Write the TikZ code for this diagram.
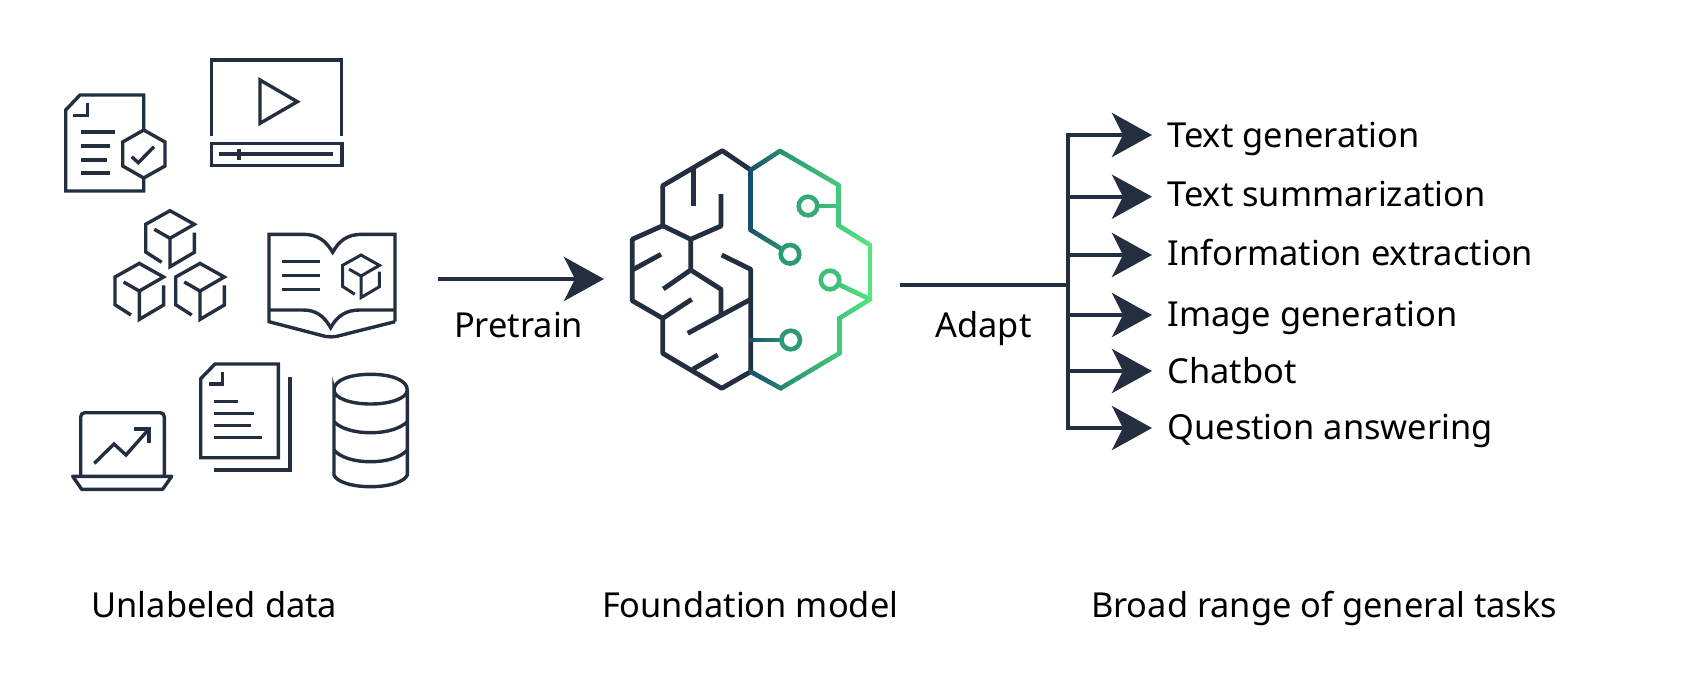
\documentclass[tikz,border=0pt]{standalone}
\usepackage{fontspec}
\setmainfont{Noto Sans}
\usetikzlibrary{arrows.meta,calc}
\definecolor{ink}{HTML}{232F3E}
\definecolor{gA}{HTML}{17506E}
\definecolor{gB}{HTML}{2C9A74}
\definecolor{gC}{HTML}{55E681}
\tikzset{
 ico/.style={draw=ink,line width=3.4pt,line join=miter,line cap=butt},
 brain/.style={draw=ink,line width=4.8pt,line cap=butt,line join=round},
 flow/.style={draw=ink,line width=4.4pt},
 tiplarge/.style={-{Stealth[length=40pt,width=44pt,inset=11pt]}},
 lab/.style={anchor=base west,text=black,font=\fontsize{34.4}{40}\selectfont,inner sep=0pt,outer sep=0pt},
}
% gradient stroke: colour follows x
\newcommand{\gcol}[1]{%
 \pgfmathsetmacro{\gt}{max(0,min(1,(#1-751)/120))}%
 \pgfmathsetmacro{\ga}{min(100,100*\gt/0.33)}%
 \pgfmathsetmacro{\gb}{max(0,100*(\gt-0.33)/0.67)}%
 \ifdim\gt pt<0.33pt\colorlet{gnow}{gB!\ga!gA}\else\colorlet{gnow}{gC!\gb!gB}\fi}
\newcommand{\gseg}[4]{%
 \foreach \i in {1,...,10}{%
  \pgfmathsetmacro{\xa}{#1+(#3-#1)*(\i-1)/10}\pgfmathsetmacro{\ya}{#2+(#4-#2)*(\i-1)/10}%
  \pgfmathsetmacro{\xb}{#1+(#3-#1)*\i/10}\pgfmathsetmacro{\yb}{#2+(#4-#2)*\i/10}%
  \pgfmathsetmacro{\xm}{(\xa+\xb)/2}\gcol{\xm}%
  \draw[draw=gnow,line width=4.6pt,line cap=round] (\xa,\ya)--(\xb,\yb);}}
\newcommand{\cube}[4]{% cx cy scale width
 \begin{scope}[shift={(#1,#2)},scale=#3]
 \draw[ico,line width=#4] (-8.3,24)--(-24.3,13.7)--(-24.3,-14)--(0,-27.6)--(24.3,-14)--(0,0)--(-15.7,-9);
 \draw[ico,line width=#4] (0,0)--(0,28.4)--(24.3,14)--(24.3,-5.6);
 \end{scope}}
\begin{document}
\begin{tikzpicture}[x=1pt,y=-1pt]
\useasboundingbox[fill=white] (0,0) rectangle (1708,672);
% --- document with hexagon
\draw[ico] (143.7,130)--(143.7,95)--(80,95)--(65.7,110)--(65.7,191)--(143.7,191)--(143.7,178);
\draw[ico] (73.3,115.7)--(87.5,115.7)--(87.5,102.7);
\draw[ico] (81,132)--(115,132) (81,146)--(110,146) (81,160)--(107,160) (81,173)--(110,173);
\draw[ico] (143.7,130)--(165,142)--(165,166)--(143.7,178)--(122.7,166)--(122.7,142)--cycle;
\draw[ico] (131.7,156.7)--(138.3,162.7)--(154,146.7);
% --- video
\draw[ico] (211.5,135.7)--(211.5,60)--(341.7,60)--(341.7,135.7);
\draw[ico] (211.7,143.3) rectangle (342,165.7);
\draw[ico] (219.3,154)--(333.3,154);
\draw[ico] (239,149)--(239,159.5);
\draw[ico] (260,80)--(297.3,101.7)--(260,123.3)--cycle;
% --- cubes
\cube{170}{238.3}{1}{3.4pt}
\cube{139.3}{291}{1}{3.4pt}
\cube{200}{291}{1}{3.4pt}
% --- book
\draw[ico] (269,310)--(269,234.3)--(303,234.3) .. controls (318,234.3) and (326,241) .. (332.7,252.3) .. controls (339,241) and (347,234.3) .. (362,234.3)--(395,234.3)--(395,321.7);
\draw[ico] (269,310)--(303,310) .. controls (316,310) and (324,316) .. (330.7,327.7) .. controls (337,316) and (346,310) .. (360,310)--(395,310);
\draw[ico] (269,310)--(269,321.7)--(320,335) .. controls (327,337.5) and (335,337.5) .. (342,335)--(395,321.7);
\draw[ico] (282.3,261.7)--(320,261.7) (282.3,275.7)--(320,275.7) (282.3,289.3)--(320,289.3);
\cube{361}{276}{0.76}{3pt}
% --- laptop
\draw[ico,rounded corners=4pt] (80.7,476.3)--(80.7,412.7)--(164.3,412.7)--(164.3,476.3);
\draw[ico,line join=round] (72.7,476.3)--(171.7,476.3)--(162.7,489.3)--(81.7,489.3)--cycle;
\draw[ico] (94.3,463.3)--(114,444)--(126,455)--(149,429);
\draw[ico] (134,429)--(149,429)--(149,443.3);
% --- paper stack
\draw[ico] (215,364)--(278.3,364)--(278.3,457.7)--(200.7,457.7)--(200.7,378.7)--cycle;
\draw[ico] (209,384)--(222.3,384)--(222.3,371.7);
\draw[ico] (214.3,401.7)--(237.7,401.7) (214.3,413.3)--(254.3,413.3) (214.3,425.3)--(250.7,425.3) (214.3,437.3)--(262,437.3);
\draw[ico] (214,470)--(290,470)--(290,376.7);
% --- database
\draw[ico] (334,390) .. controls (334,380) and (350,374.3) .. (370.7,374.3) .. controls (391,374.3) and (407.3,380) .. (407.3,390) .. controls (407.3,398) and (391,404) .. (370.7,404) .. controls (350,404) and (334,398) .. (334,390) -- (334,475) .. controls (336,481) and (350,486.7) .. (370.7,486.7) .. controls (391,486.7) and (405,481) .. (407.3,475) -- (407.3,390);
\draw[ico] (334,421.7) .. controls (340,428) and (353,432.7) .. (370.7,432.7) .. controls (388,432.7) and (401,428) .. (407.3,421.7);
\draw[ico] (334,450) .. controls (340,457) and (353,461.7) .. (370.7,461.7) .. controls (388,461.7) and (401,457) .. (407.3,450);
% --- brain, dark half
\draw[brain] (750.7,170)--(722.3,150.7)--(662.7,185.7)--(662.7,225.7)--(690.7,239.3)--(721,226)--(721,194);
\draw[brain] (693.3,169)--(693.3,206);
\draw[brain] (662.7,225.7)--(632.3,239.3)--(632.3,300.7)--(662.7,318.3)--(662.7,353.3)--(721.7,388.3)--(750.7,371.7);
\draw[brain] (632.3,270)--(661,254.3);
\draw[brain] (662.7,318.3)--(691.7,299.3);
\draw[brain] (692.7,369.3)--(717.7,355);
\draw[brain] (690.7,239.3)--(690.7,270)--(721,289.3)--(721,315);
\draw[brain] (690.7,270)--(663.3,289);
\draw[brain] (687.7,333.3)--(750.7,299.3);
\draw[brain] (721.7,255)--(750.7,269.3)--(750.7,371.7);
% --- brain, gradient half
\gseg{750.7}{170}{750.7}{230}
\gseg{750.7}{230}{780}{248}
\gseg{750.7}{170}{780}{151}
\gseg{780}{151}{838.5}{185}
\gseg{838.5}{185}{838.5}{225.5}
\gseg{838.5}{225.5}{870}{245}
\gseg{870}{245}{870}{299.3}
\gseg{870}{299.3}{839.3}{318.3}
\gseg{839.3}{318.3}{839.3}{353.3}
\gseg{839.3}{353.3}{780.7}{388.3}
\gseg{780.7}{388.3}{750.7}{371.7}
\gseg{751.5}{340}{780}{340}
\gseg{838.5}{206}{820}{206}
\gseg{870}{299.3}{840}{285}
\draw[draw=gB,line width=4.6pt] (790.7,340) circle (9.3);
\draw[draw=gB,line width=4.6pt] (790,254.3) circle (9.3);
\gcol{808}\colorlet{gtop}{gnow}\gcol{830}\colorlet{gmid}{gnow}
\draw[draw=gtop,line width=4.6pt] (808,206) circle (9.3);
\draw[draw=gmid,line width=4.6pt] (830,280) circle (9.3);
% --- arrows
\coordinate (preS) at (438,279);
\coordinate (preE) at (604,279);
\draw[flow,tiplarge] (preS)--(preE);
\coordinate (adS) at (900,285);
\coordinate (adE) at (1068,285);
\draw[flow] (adS)--(adE);
\coordinate (trT) at (1068,135);
\coordinate (trB) at (1068,428);
\draw[flow] (trT)--(trB);
\foreach \n/\y in {a/135,b/196.7,c/255,d/315,e/371,f/428}{
 \coordinate (s\n) at (1066,\y);
 \coordinate (t\n) at (1152,\y);
 \draw[flow,tiplarge] (s\n)--(t\n);
}
% --- labels
\node[lab] (tg) at (1167.5,147) {Text generation};
\node[lab] (ts) at (1167.5,206) {Text summarization};
\node[lab] (ie) at (1167.5,265) {Information extraction};
\node[lab] (ig) at (1167.5,326) {Image generation};
\node[lab] (cb) at (1167.5,383.5) {Chatbot};
\node[lab] (qa) at (1167.5,439) {Question answering};
\node[lab] (pre) at (454,337) {Pretrain};
\node[lab] (ada) at (935.5,337) {Adapt};
\node[lab] (ud) at (91.5,617) {Unlabeled data};
\node[lab] (fm) at (602,617) {Foundation model};
\node[lab] (br) at (1091,617) {Broad range of general tasks};
\end{tikzpicture}
\end{document}
